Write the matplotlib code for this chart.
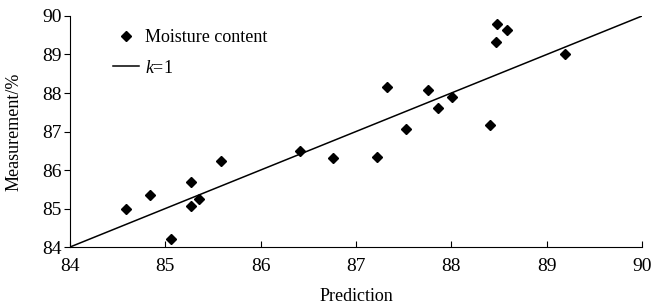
import matplotlib
matplotlib.use("Agg")
import matplotlib.pyplot as plt

plt.rcParams['font.family'] = ['Liberation Serif', 'DejaVu Serif']
plt.rcParams['mathtext.fontset'] = 'custom'
plt.rcParams['mathtext.it'] = 'Liberation Serif:italic'
plt.rcParams['mathtext.rm'] = 'Liberation Serif'

# Predicted vs measured moisture content (%)
prediction = [84.59, 84.84, 85.06, 85.27, 85.27, 85.35, 85.58, 86.41, 86.76, 87.22,
              87.33, 87.52, 87.75, 87.86, 88.01, 88.41, 88.47, 88.48, 88.58, 89.19]
measurement = [84.99, 85.35, 84.22, 85.70, 85.06, 85.25, 86.24, 86.49, 86.32, 86.35,
               88.15, 87.06, 88.08, 87.61, 87.89, 87.17, 89.33, 89.79, 89.63, 89.02]
k_line = [84, 90]
ticks = [84, 85, 86, 87, 88, 89, 90]

fig = plt.figure(figsize=(6.52, 3.07), dpi=100)
ax = fig.add_axes([0.1074, 0.1954, 0.8773, 0.7525])

ax.plot(prediction, measurement, linestyle='none', marker='D', markersize=5,
        color='black', label='Moisture content')
ax.plot(k_line, k_line, color='black', linewidth=1.1, label='$k$=1')

ax.set_xlim(84, 90)
ax.set_ylim(84, 90)
ax.set_xticks(ticks)
ax.set_yticks(ticks)
ax.tick_params(axis='x', direction='in', length=4, labelsize=14, pad=8)
ax.tick_params(axis='y', direction='out', length=4, labelsize=14, pad=2)
ax.spines['top'].set_visible(False)
ax.spines['right'].set_visible(False)
ax.set_xlabel('Prediction', fontsize=13, labelpad=9)
ax.set_ylabel('Measurement/%', fontsize=13, labelpad=14)

ax.legend(loc='upper left', bbox_to_anchor=(0.057, 0.99), frameon=False, fontsize=13,
          handlelength=1.4, handletextpad=0.35, labelspacing=0.75, borderaxespad=0.2)

fig.savefig('out.png', dpi=100)
